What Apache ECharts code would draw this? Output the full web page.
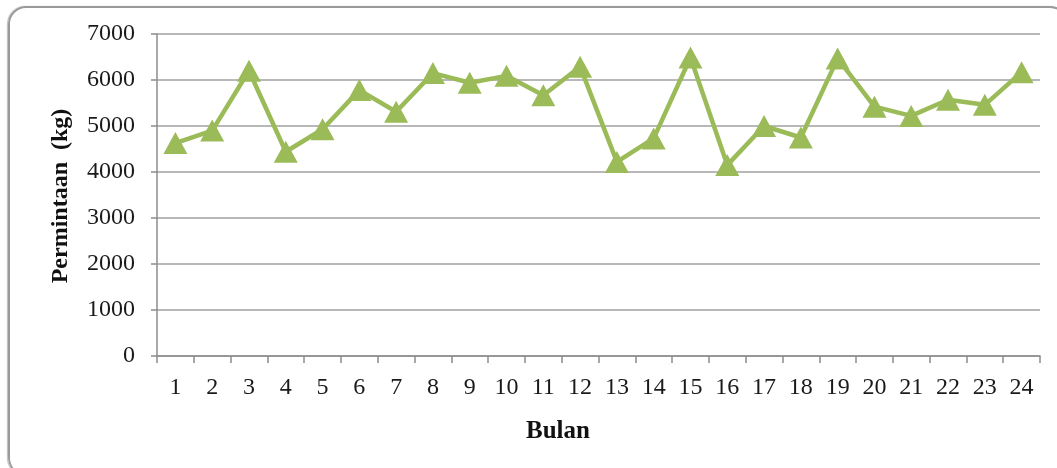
<!DOCTYPE html>
<html>
<head>
<meta charset="utf-8">
<script src="https://cdn.jsdelivr.net/npm/echarts@6/dist/echarts.min.js"></script>
<style>
  html, body { margin: 0; padding: 0; background: #fff; }
  #wrap { position: relative; width: 1057px; height: 468px; overflow: hidden; }
  #frame {
    position: absolute; left: 8px; top: 6px; width: 1060px; height: 470px;
    border: 2px solid #9a9a9a; border-radius: 18px; box-sizing: border-box;
    box-shadow: -1px 0 1px #bbb;
  }
  #chart { position: absolute; left: 0; top: 0; width: 1057px; height: 468px; }
</style>
</head>
<body>
<div id="wrap">
  <div id="frame"></div>
  <div id="chart"></div>
</div>
<script>
// Monthly demand (kg) over 24 months
const months = ['1','2','3','4','5','6','7','8','9','10','11','12',
                '13','14','15','16','17','18','19','20','21','22','23','24'];
const demand = [4630, 4900, 6200, 4440, 4930, 5780, 5310, 6150, 5940, 6090, 5670, 6290,
                4220, 4730, 6490, 4150, 5000, 4750, 6470, 5420, 5220, 5570, 5460, 6170];
const yTicks = [0, 1000, 2000, 3000, 4000, 5000, 6000, 7000];

const serif = '"Liberation Serif", "Times New Roman", serif';
const chart = echarts.init(document.getElementById('chart'), null, { renderer: 'canvas' });

chart.setOption({
  animation: false,
  backgroundColor: 'transparent',
  grid: { left: 157, right: 17, top: 34, bottom: 112, containLabel: false },
  xAxis: {
    type: 'category',
    data: months,
    boundaryGap: true,
    axisLine: { lineStyle: { color: '#8c8c8c', width: 1.5 } },
    axisTick: { show: true, length: 7, alignWithLabel: false, lineStyle: { color: '#8c8c8c', width: 1.5 } },
    axisLabel: { color: '#1a1a1a', fontFamily: serif, fontSize: 24, margin: 20, interval: 0 },
    splitLine: { show: false }
  },
  yAxis: {
    type: 'value',
    min: yTicks[0],
    max: yTicks[yTicks.length - 1],
    interval: 1000,
    axisLine: { show: true, lineStyle: { color: '#8c8c8c', width: 1.5 } },
    axisTick: { show: true, length: 6, lineStyle: { color: '#8c8c8c', width: 1.5 } },
    axisLabel: {
      color: '#1a1a1a', fontFamily: serif, fontSize: 24, margin: 22,
      formatter: v => String(v)
    },
    splitLine: { lineStyle: { color: '#a0a0a0', width: 1.5 } }
  },
  graphic: [
    {
      type: 'text',
      x: 61, y: 196,
      rotation: Math.PI / 2,
      style: {
        text: 'Permintaan  (kg)',
        font: 'bold 24px ' + serif,
        fill: '#111',
        align: 'center',
        verticalAlign: 'middle'
      }
    },
    {
      type: 'text',
      x: 558, y: 432,
      style: {
        text: 'Bulan',
        font: 'bold 25px ' + serif,
        fill: '#111',
        align: 'center',
        verticalAlign: 'middle'
      }
    }
  ],
  series: [{
    type: 'line',
    data: demand,
    symbol: 'triangle',
    symbolSize: [24, 22],
    lineStyle: { color: '#9bbb59', width: 4.5 },
    itemStyle: { color: '#9bbb59' }
  }]
});
</script>
</body>
</html>
